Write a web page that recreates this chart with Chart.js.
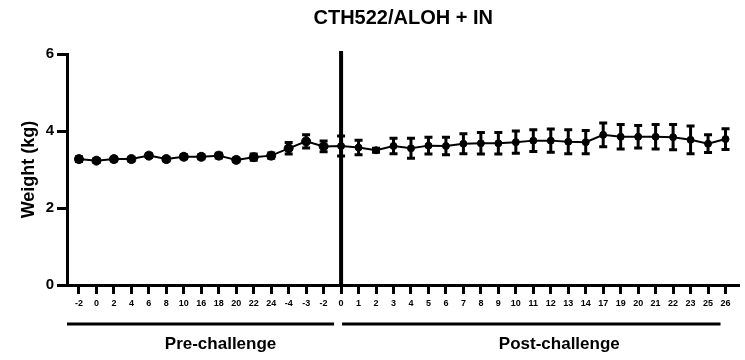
<!DOCTYPE html>
<html>
<head>
<meta charset="utf-8">
<title>CTH522/ALOH + IN</title>
<script src="https://cdn.jsdelivr.net/npm/chart.js@4.4.1/dist/chart.umd.min.js"></script>
<style>
    html, body { margin: 0; padding: 0; background: #ffffff; }
</style>
</head>
<body>
<canvas id="grafica" width="745" height="360"></canvas>
<script>
// ─────────────────────────────────────────────────────────────────
// DATOS (semanas pre / post challenge, peso medio ± SEM)
// ─────────────────────────────────────────────────────────────────
const preLabels  = ['-2', '0', '2', '4', '6', '8', '10', '16', '18', '20', '22', '24', '-4', '-3', '-2'];
const postLabels = ['0', '1', '2', '3', '4', '5', '6', '7', '8', '9', '10', '11', '12', '13', '14',
                    '17', '19', '20', '21', '22', '23', '25', '26'];

const weightMean = [
    3.27, 3.23, 3.27, 3.27, 3.36, 3.27, 3.33, 3.33, 3.36, 3.25, 3.32, 3.36, 3.55, 3.73, 3.60,
    3.61, 3.57, 3.50, 3.61, 3.55, 3.62, 3.61, 3.67, 3.68, 3.68, 3.71, 3.75, 3.75, 3.72, 3.71,
    3.90, 3.85, 3.85, 3.85, 3.84, 3.77, 3.67, 3.79
];
const weightSem = [
    0.06, 0.05, 0.05, 0.05, 0.05, 0.05, 0.05, 0.05, 0.06, 0.05, 0.08, 0.07, 0.15, 0.17, 0.14,
    0.26, 0.19, 0.05, 0.20, 0.26, 0.22, 0.23, 0.26, 0.28, 0.28, 0.29, 0.28, 0.30, 0.31, 0.30,
    0.31, 0.32, 0.29, 0.32, 0.33, 0.36, 0.23, 0.27
];
const yTicks = [0, 2, 4, 6];
const groupNames = ['Pre-challenge', 'Post-challenge'];

const allLabels = preLabels.concat(postLabels);
const FONT = "'Liberation Sans', Arial, sans-serif";

// ─────────────────────────────────────────────────────────────────
// BARRAS DE ERROR (se dibujan antes de los puntos)
// ─────────────────────────────────────────────────────────────────
const barrasError = {
    id: 'barrasError',
    beforeDatasetsDraw: function(chart) {
        const ctx = chart.ctx;
        const x = chart.scales.x;
        const y = chart.scales.y;
        ctx.save();
        ctx.strokeStyle = '#000';
        ctx.lineWidth = 3;
        weightMean.forEach(function(m, i) {
            const px = x.getPixelForValue(i);
            const top = y.getPixelForValue(m + weightSem[i]);
            const bot = y.getPixelForValue(m - weightSem[i]);
            ctx.beginPath();
            ctx.moveTo(px, top); ctx.lineTo(px, bot);
            ctx.moveTo(px - 4, top); ctx.lineTo(px + 4, top);
            ctx.moveTo(px - 4, bot); ctx.lineTo(px + 4, bot);
            ctx.stroke();
        });
        ctx.restore();
    }
};

// ─────────────────────────────────────────────────────────────────
// LINEA DIVISORIA + CORCHETES PRE / POST
// ─────────────────────────────────────────────────────────────────
const grupos = {
    id: 'grupos',
    afterDraw: function(chart) {
        const ctx = chart.ctx;
        const x = chart.scales.x;
        const y = chart.scales.y;
        const divX = x.getPixelForValue(preLabels.length);
        const lastX = x.getPixelForValue(allLabels.length - 1);

        ctx.save();
        ctx.strokeStyle = '#000';
        ctx.lineWidth = 4;
        ctx.beginPath();
        ctx.moveTo(divX, y.top - 3);
        ctx.lineTo(divX, y.bottom);
        ctx.stroke();

        const yLinea = y.bottom + 39;
        // [inicio, fin, desplazamiento del texto]
        const tramos = [[x.left, divX - 7, 20], [divX + 1, lastX - 5, 28]];
        ctx.lineWidth = 3;
        ctx.fillStyle = '#000';
        ctx.font = 'bold 17px ' + FONT;
        ctx.textAlign = 'center';
        ctx.textBaseline = 'middle';
        tramos.forEach(function(t, i) {
            ctx.beginPath();
            ctx.moveTo(t[0], yLinea);
            ctx.lineTo(t[1], yLinea);
            ctx.stroke();
            ctx.fillText(groupNames[i], (t[0] + t[1]) / 2 + t[2], yLinea + 20);
        });
        ctx.restore();
    }
};

new Chart(document.getElementById('grafica'), {
    type: 'line',
    data: {
        datasets: [{
            data: weightMean.map(function(v, i) { return { x: i, y: v }; }),
            borderColor: '#000',
            borderWidth: 2,
            backgroundColor: '#000',
            pointBackgroundColor: '#000',
            pointBorderColor: '#000',
            pointBorderWidth: 1,
            pointRadius: allLabels.map(function(_, i) { return i < preLabels.length ? 4.5 : 3.5; }),
            tension: 0
        }]
    },
    options: {
        responsive: false,
        animation: false,
        devicePixelRatio: 1,
        layout: { padding: { left: 0, right: 4, top: 0, bottom: 0 } },
        plugins: {
            legend: { display: false },
            tooltip: { enabled: false },
            title: {
                display: true,
                text: 'CTH522/ALOH + IN',
                fullSize: false,
                color: '#000',
                font: { family: FONT, size: 20, weight: 'bold' },
                padding: { top: 6, bottom: 24 }
            }
        },
        scales: {
            x: {
                type: 'linear',
                min: -0.685,
                max: 37.8,
                bounds: 'data',
                afterBuildTicks: function(scale) {
                    scale.ticks = allLabels.map(function(_, i) { return { value: i }; });
                },
                afterFit: function(scale) { scale.height = 75; },
                border: { display: true, color: '#000', width: 3 },
                grid: { drawOnChartArea: false, drawTicks: true, tickLength: 9, tickWidth: 3, tickColor: '#000' },
                ticks: {
                    autoSkip: false,
                    maxRotation: 0,
                    padding: 4,
                    color: '#000',
                    font: { family: FONT, size: 9, weight: 'bold' },
                    callback: function(value) { return allLabels[value] !== undefined ? allLabels[value] : ''; }
                }
            },
            y: {
                min: 0,
                max: 6,
                afterBuildTicks: function(scale) {
                    scale.ticks = yTicks.map(function(v) { return { value: v }; });
                },
                afterFit: function(scale) { scale.width = 67; },
                border: { display: true, color: '#000', width: 3 },
                grid: { drawOnChartArea: false, drawTicks: true, tickLength: 10, tickWidth: 3, tickColor: '#000' },
                ticks: {
                    padding: 3,
                    color: '#000',
                    font: { family: FONT, size: 15, weight: 'bold' }
                },
                title: {
                    display: true,
                    text: 'Weight (kg)',
                    color: '#000',
                    font: { family: FONT, size: 18, weight: 'bold' },
                    padding: { top: 18, bottom: 0 }
                }
            }
        }
    },
    plugins: [barrasError, grupos]
});
</script>
</body>
</html>
